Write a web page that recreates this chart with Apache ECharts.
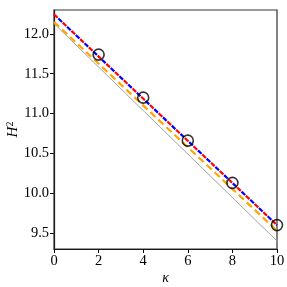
<!DOCTYPE html>
<html><head><meta charset="utf-8">
<script src="https://cdn.jsdelivr.net/npm/echarts@6/dist/echarts.min.js"></script>
<style>html,body{margin:0;padding:0;background:#fff}#c{width:287px;height:287px}</style>
</head><body><div id="c"></div>
<script>
var lineX = [0, 10];
var redY = [12.245, 9.60];
var blueY = [12.245, 9.60];
var orangeY = [12.15, 9.53];
var grayY = [12.13, 9.40];
var pointX = [2, 4, 6, 8, 10];
var pointY = [11.74, 11.20, 10.66, 10.13, 9.60];
var xTicks = [0, 2, 4, 6, 8, 10];
var yTicks = [9.5, 10.0, 10.5, 11.0, 11.5, 12.0];

function pairs(xs, ys){ return xs.map(function(x,i){return [x, ys[i]];}); }
var font = '"Liberation Serif", "DejaVu Serif", serif';
var chart = echarts.init(document.getElementById('c'));
chart.setOption({
  animation: false,
  grid: {left: 54, right: 10, top: 10, bottom: 38, containLabel: false, outerBoundsMode: 'none'},
  xAxis: {
    type: 'value', min: 0, max: 10, interval: 2,
    name: 'κ', nameLocation: 'middle', nameGap: 22, nameMoveOverlap: false,
    nameTextStyle: {fontFamily: font, fontStyle: 'italic', fontSize: 14, color: '#000'},
    axisLine: {show: true, onZero: false, lineStyle: {color: '#000', width: 1.2}},
    axisTick: {show: true, length: 4, lineStyle: {color: '#000', width: 1}},
    axisLabel: {fontFamily: font, fontSize: 14.5, color: '#000', margin: 5},
    splitLine: {show: false}
  },
  yAxis: {
    type: 'value', min: 9.3, max: 12.3,
    name: '{i|H}{s|2}', nameLocation: 'middle', nameGap: 32, nameRotate: 90, nameMoveOverlap: false,
    nameTextStyle: {color: '#000', rich: {
      i: {fontFamily: font, fontStyle: 'italic', fontSize: 15, color: '#000'},
      s: {fontFamily: font, fontSize: 10, color: '#000', verticalAlign: 'top', padding: [0,0,7,0]}
    }},
    axisLine: {show: true, onZero: false, lineStyle: {color: '#000', width: 1.2}},
    axisTick: {show: true, length: 4, lineStyle: {color: '#000', width: 1}, customValues: yTicks},
    axisLabel: {fontFamily: font, fontSize: 14.5, color: '#000', margin: 5, customValues: yTicks,
      formatter: function(v){ return v.toFixed(1); }},
    splitLine: {show: false}
  },
  series: [
    {type: 'line', data: pairs(lineX, grayY), symbol: 'none', lineStyle: {color: '#a0a0a0', width: 1}, z: 1},
    {type: 'line', data: pairs(lineX, orangeY), symbol: 'none', lineStyle: {color: 'orange', width: 2.2, type: [7, 4]}, z: 2},
    {type: 'line', data: pairs(lineX, redY), symbol: 'none', lineStyle: {color: 'red', width: 2.2, type: [5, 7]}, z: 3},
    {type: 'line', data: pairs(lineX, blueY), symbol: 'none', lineStyle: {color: 'blue', width: 2.2, type: [0, 6, 5, 1]}, z: 4},
    {type: 'scatter', data: pairs(pointX, pointY), symbol: 'circle', symbolSize: 11,
      itemStyle: {color: 'rgba(0,0,0,0)', borderColor: '#000', borderWidth: 1.6}, z: 5},
    {type: 'line', data: [], markArea: {silent: true, itemStyle: {color: 'rgba(0,0,0,0)', borderColor: '#333', borderWidth: 1.2},
      data: [[{coord: [0, 9.3]}, {coord: [10, 12.3]}]]}}
  ]
});
</script></body></html>
